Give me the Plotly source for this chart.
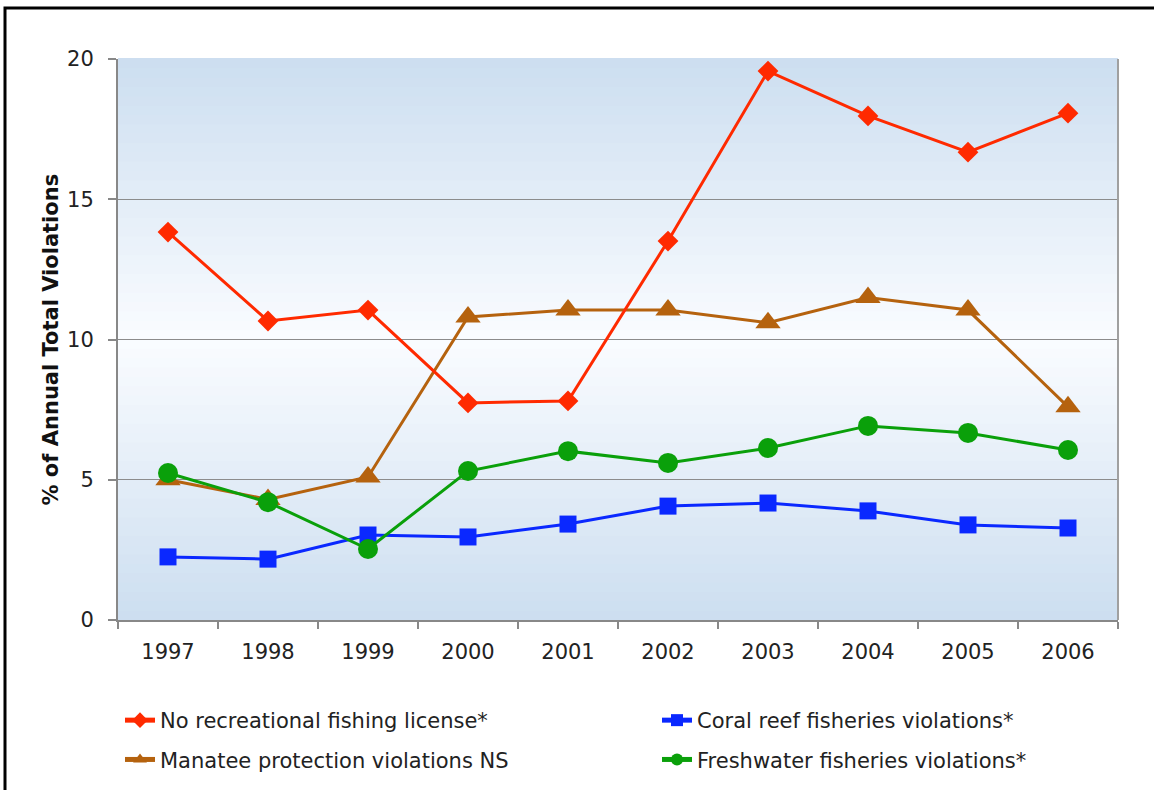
import plotly.graph_objects as go

# Violation shares by year (% of annual total violations)
years = ["1997", "1998", "1999", "2000", "2001", "2002", "2003", "2004", "2005", "2006"]
no_license = [13.83, 10.66, 11.05, 7.74, 7.81, 13.51, 19.57, 17.97, 16.68, 18.07]
manatee = [5.0, 4.3, 5.1, 10.8, 11.05, 11.05, 10.6, 11.5, 11.05, 7.6]
freshwater = [5.24, 4.2, 2.53, 5.31, 6.02, 5.6, 6.13, 6.92, 6.67, 6.06]
coral_reef = [2.25, 2.17, 3.03, 2.96, 3.42, 4.06, 4.17, 3.89, 3.39, 3.28]
y_ticks = [0, 5, 10, 15, 20]

FONT = "DejaVu Sans"
W, H = 1154, 790
L, R, T, B = 118, 36, 59, 170

fig = go.Figure()

# name, values, colour, symbol, size, legend box, rank within the box
manatee_s = ("Manatee protection violations NS", manatee, "#b5620e", "triangle-up", 22, "legend", 2)
coral_s = ("Coral reef fisheries violations*", coral_reef, "#0a28ff", "square", 17, "legend2", 1)
fresh_s = ("Freshwater fisheries violations*", freshwater, "#0aa00a", "circle", 20, "legend2", 2)
license_s = ("No recreational fishing license*", no_license, "#ff2a00", "diamond", 16, "legend", 1)

for i, (name, vals, color, sym, size, leg, rank) in enumerate([manatee_s, coral_s, fresh_s, license_s]):
    fig.add_trace(go.Scatter(
        x=years, y=vals, name=name, mode="lines+markers",
        line=dict(color=color, width=3),
        marker=dict(symbol=sym, size=size, color=color, line=dict(width=0)),
        legend=leg, legendgroup="g%d" % i, legendrank=rank,
    ))

# vertical gradient background: light blue at top and bottom, near white in the middle
top_c = (204, 222, 240)
mid_c = (250, 252, 255)
n = 60
shapes = []
for i in range(n):
    y0 = i / n
    y1 = (i + 1) / n
    c = (y0 + y1) / 2
    t = abs(c - 0.5) * 2  # 0 at middle, 1 at edges
    rgb = tuple(round(mid_c[k] + (top_c[k] - mid_c[k]) * t) for k in range(3))
    shapes.append(dict(type="rect", xref="paper", yref="paper", x0=0, x1=1, y0=y0, y1=y1 + 0.002,
                       fillcolor="rgb(%d,%d,%d)" % rgb, line=dict(width=0), layer="below"))

pw, ph = W - L - R, H - T - B
def px_x(p):
    return (p - L) / pw
def px_y(p):
    return (H - B - p) / ph

# outer frame
shapes.append(dict(type="rect", xref="paper", yref="paper",
                   x0=px_x(5), x1=px_x(1160), y0=px_y(8), y1=px_y(800),
                   line=dict(color="black", width=3), fillcolor="rgba(0,0,0,0)", layer="above"))
# plot area right border
shapes.append(dict(type="line", xref="paper", yref="paper", x0=1, x1=1, y0=0, y1=1,
                   line=dict(color="#a0a0a0", width=2), layer="above"))

legend_font = dict(family=FONT, size=21, color="#222222")
fig.update_layout(
    width=W, height=H,
    margin=dict(l=L, r=R, t=T, b=B, autoexpand=False),
    paper_bgcolor="white", plot_bgcolor="white",
    font=dict(family=FONT, size=21, color="#222222"),
    shapes=shapes,
    showlegend=True,
    legend=dict(x=px_x(120), y=px_y(700), xanchor="left", yanchor="top",
                font=legend_font, bgcolor="rgba(0,0,0,0)",
                tracegroupgap=9, itemsizing="constant"),
    legend2=dict(x=px_x(657), y=px_y(700), xanchor="left", yanchor="top",
                 font=legend_font, bgcolor="rgba(0,0,0,0)",
                 tracegroupgap=9, itemsizing="constant"),
    annotations=[dict(text="<b>% of Annual Total Violations</b>", textangle=-90,
                      xref="paper", yref="paper", x=px_x(50), y=0.5,
                      xanchor="center", yanchor="middle", showarrow=False,
                      font=dict(family=FONT, size=21, color="#111111"))],
)

fig.update_xaxes(
    type="category", range=[-0.5, 9.5], tickson="boundaries",
    ticks="outside", ticklen=7, tickcolor="#888888", tickwidth=1.5,
    showline=True, linecolor="#888888", linewidth=2,
    showgrid=False, ticklabelstandoff=12,
    tickfont=dict(family=FONT, size=21, color="#222222"),
)
fig.update_yaxes(
    range=[0, 20], tickvals=y_ticks, ticks="outside", ticklen=8,
    tickcolor="#888888", tickwidth=1.5,
    showline=True, linecolor="#888888", linewidth=2,
    showgrid=True, gridcolor="#8c8c8c", gridwidth=1.2, zeroline=False,
    ticklabelstandoff=10,
    tickfont=dict(family=FONT, size=21, color="#222222"),
)

fig.write_html("out.html")
